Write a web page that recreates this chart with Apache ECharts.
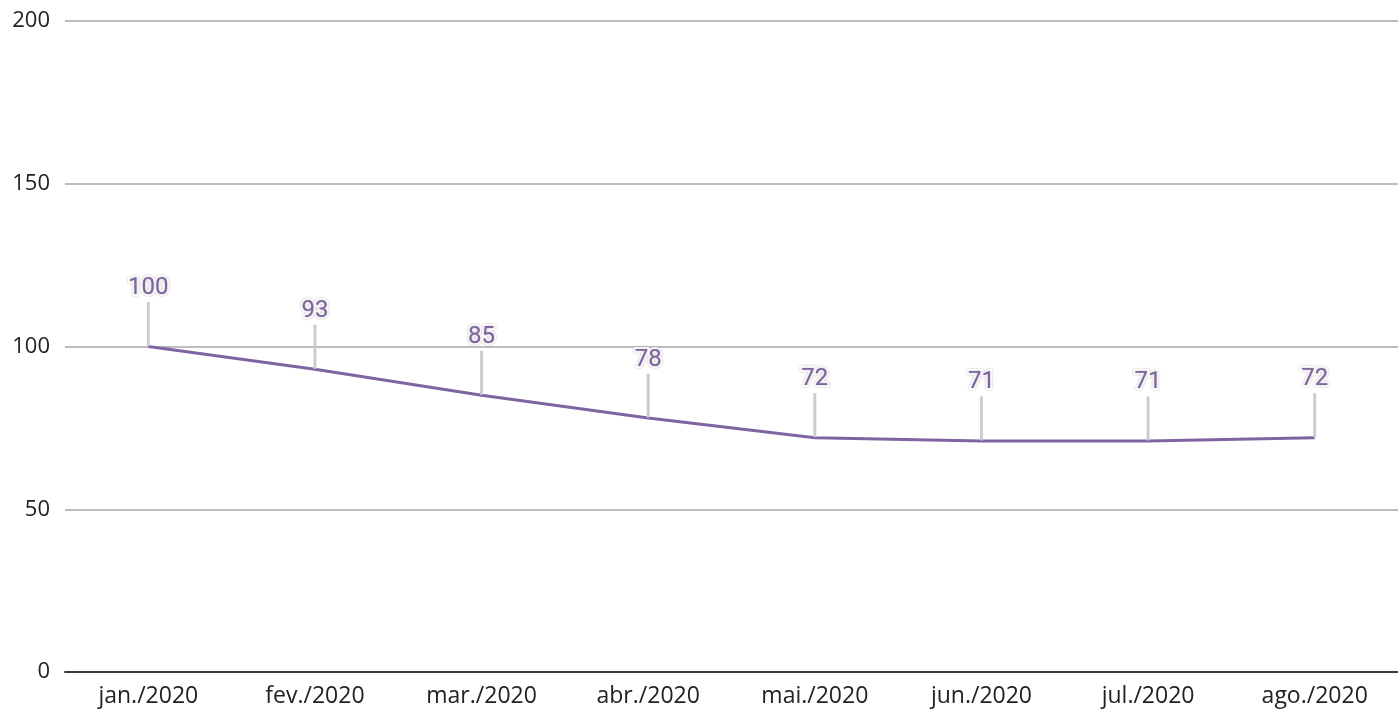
<!DOCTYPE html>
<html><head><meta charset="utf-8">
<script src="https://cdn.jsdelivr.net/npm/echarts@6/dist/echarts.min.js"></script>
<style>html,body{margin:0;padding:0;background:#fff}#c{width:1398px;height:714px}</style>
</head><body><div id="c"></div>
<script>
const categories = ['jan./2020','fev./2020','mar./2020','abr./2020','mai./2020','jun./2020','jul./2020','ago./2020'];
const values = [100, 93, 85, 78, 72, 71, 71, 72];
const yTicks = [0, 50, 100, 150, 200];

const chart = echarts.init(document.getElementById('c'));
chart.setOption({
  animation: false,
  grid: {left: 65, right: 0, top: 21, bottom: 42},
  xAxis: {
    type: 'category', data: categories, boundaryGap: true,
    axisLine: {lineStyle: {color: '#3a3a3a', width: 2}},
    axisTick: {show: false},
    axisLabel: {color: '#222', fontFamily: 'Open Sans', fontSize: 23, margin: 13}
  },
  yAxis: {
    type: 'value', min: yTicks[0], max: yTicks[yTicks.length-1], interval: 50,
    axisLine: {show: false}, axisTick: {show: false},
    axisLabel: {color: '#222', fontFamily: 'Open Sans', fontSize: 22, margin: 15},
    splitLine: {lineStyle: {color: '#bdbdbd', width: 2}}
  },
  series: [{
    type: 'line', data: values, symbol: 'circle', symbolSize: 1, showSymbol: true,
    itemStyle: {color: 'rgba(128,100,162,0)', borderWidth: 0},
    lineStyle: {color: '#8064a2', width: 3},
    label: {
      show: true, position: 'top', distance: 0, opacity: 1,
      color: '#8064a2', fontFamily: 'Roboto', fontSize: 24,
      textBorderColor: '#fff', textBorderWidth: 4,
      textShadowColor: 'rgba(0,0,0,0.3)', textShadowBlur: 2
    },
    labelLayout: {dy: -46},
    labelLine: {show: true, lineStyle: {color: '#cccccc', width: 3}}
  }]
});
</script></body></html>
